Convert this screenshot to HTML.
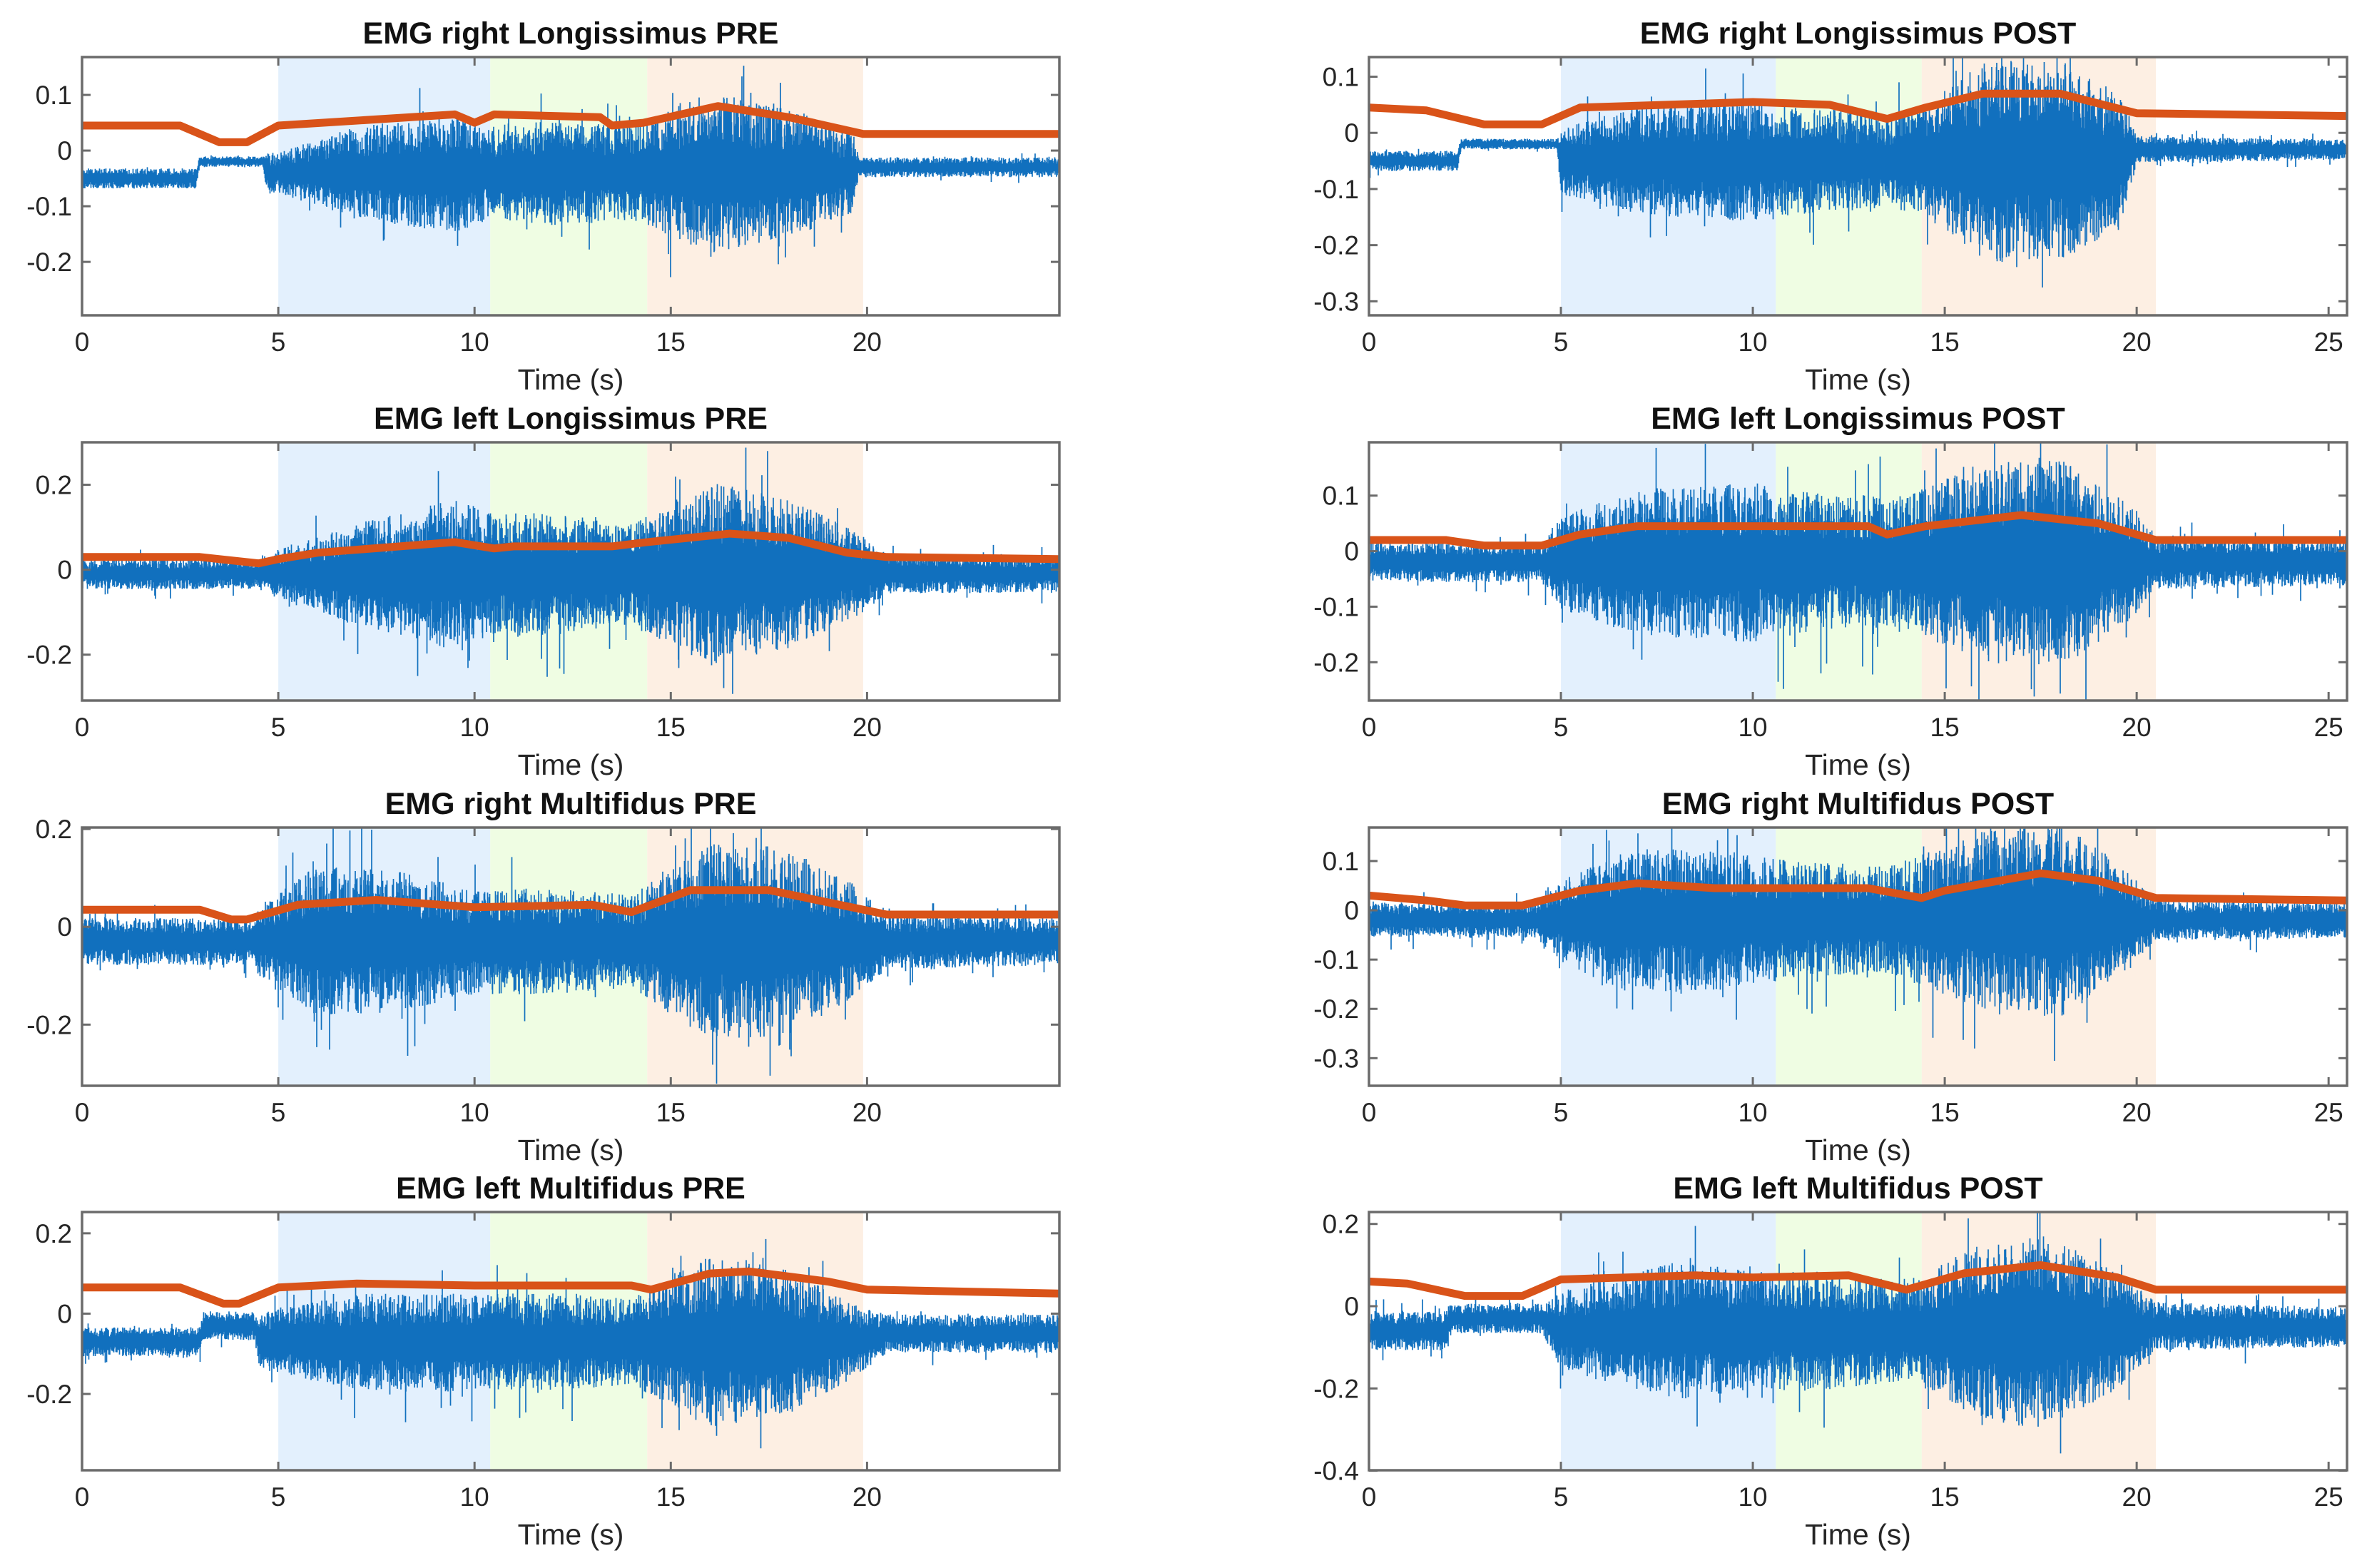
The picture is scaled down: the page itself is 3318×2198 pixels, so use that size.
<!DOCTYPE html>
<html><head><meta charset="utf-8"><style>
html,body{margin:0;padding:0;background:#fff;}
svg{display:block;font-family:"Liberation Sans",Arial,sans-serif;}
</style></head><body>
<svg id="fig" width="3318" height="2198" viewBox="0 0 3318 2198" xmlns="http://www.w3.org/2000/svg"></svg>
<script>
// ---- data ----
const titles = ["EMG right Longissimus PRE","EMG right Longissimus POST","EMG left Longissimus PRE","EMG left Longissimus POST","EMG right Multifidus PRE","EMG right Multifidus POST","EMG left Multifidus PRE","EMG left Multifidus POST"];
const xMaxes = [24.9,25.48,24.9,25.48,24.9,25.48,24.9,25.48];
const yLims = [[-0.296,0.168],[-0.325,0.135],[-0.308,0.30],[-0.269,0.196],[-0.325,0.203],[-0.356,0.168],[-0.39,0.253],[-0.399,0.229]];
const yTicks = [[-0.2,-0.1,0,0.1],[-0.3,-0.2,-0.1,0,0.1],[-0.2,0,0.2],[-0.2,-0.1,0,0.1],[-0.2,0,0.2],[-0.3,-0.2,-0.1,0,0.1],[-0.2,0,0.2],[-0.4,-0.2,0,0.2]];
const xTicksPre = [0,5,10,15,20];
const xTicksPost = [0,5,10,15,20,25];
const phasesPre = [[5,10.4],[10.4,14.4],[14.4,19.9]];
const phasesPost = [[5,10.6],[10.6,14.4],[14.4,20.5]];
// orange RMS envelope: times and values
const rmsT = [
 [0,2.5,3.5,4.2,5,9.5,10,10.5,13.2,13.5,14.3,16.2,18,19.9,24.9],
 [0,1.5,3,4.5,5.5,10,12,13.5,14.5,16,18,20,25.5],
 [0,3,4.5,5,6,9.5,10.5,11,13.5,14.4,16.5,18,19.5,20.5,24.9],
 [0,2,3,4.5,5.5,7,10,13,13.5,14.5,17,19,20.5,25.5],
 [0,3,3.8,4.2,5.5,7.5,10,13,14,15.5,17.5,19,20.5,24.9],
 [0,1.5,2.5,4,5.5,7,9,13,14.4,15,17.5,19,20.5,25.5],
 [0,2.5,3.6,4,5,7,10,14,14.5,16,17,19,20,24.9],
 [0,1,2.5,4,5,8.5,10,12.5,14,15.5,17.5,19.5,20.5,25.5]];
const rmsV = [
 [0.045,0.045,0.015,0.015,0.045,0.065,0.05,0.065,0.06,0.045,0.05,0.08,0.06,0.03,0.03],
 [0.045,0.04,0.015,0.015,0.045,0.055,0.05,0.025,0.045,0.07,0.07,0.035,0.03],
 [0.03,0.03,0.015,0.025,0.04,0.065,0.05,0.055,0.055,0.065,0.085,0.075,0.04,0.03,0.025],
 [0.02,0.02,0.01,0.01,0.03,0.045,0.045,0.045,0.03,0.045,0.065,0.05,0.02,0.02],
 [0.035,0.035,0.015,0.015,0.045,0.055,0.04,0.045,0.03,0.075,0.075,0.05,0.025,0.025],
 [0.03,0.02,0.01,0.01,0.04,0.055,0.045,0.045,0.025,0.04,0.075,0.06,0.025,0.02],
 [0.065,0.065,0.025,0.025,0.065,0.075,0.07,0.07,0.06,0.1,0.105,0.08,0.06,0.05],
 [0.06,0.055,0.025,0.025,0.065,0.075,0.07,0.075,0.04,0.08,0.1,0.07,0.04,0.04]];
// raw EMG envelope: times, centre offset, half-amplitude
const emgT = [
 [0,2.9,3.0,4.6,4.7,5,7,9.5,10.3,12,14,16,18,19.6,19.8,24.9],
 [0,2.3,2.4,4.9,5,7,10,11,13.5,14.4,16,18,19.6,20,25.5],
 [0,4.5,5,7,9.5,10.4,12,14,16,18,19.8,20.5,24.9],
 [0,4.5,5,7,10,12,14,16,18,20,20.5,25.5],
 [0,4.4,4.5,6,8,10,12,14,16,18,19.6,20.5,24.9],
 [0,4.4,4.5,6.5,9,11,13.5,16,18,19.8,20.5,25.5],
 [0,3,3.1,4.4,4.5,7,10,12,14,16,18,19.6,20.5,24.9],
 [0,2,2.1,4.5,5,8,10,12,14,16,17.5,19.5,20.5,25.5]];
const emgC = [
 [-0.05,-0.05,-0.02,-0.02,-0.04,-0.04,-0.04,-0.04,-0.04,-0.04,-0.04,-0.04,-0.04,-0.04,-0.03,-0.03],
 [-0.05,-0.05,-0.02,-0.02,-0.05,-0.05,-0.05,-0.05,-0.05,-0.05,-0.05,-0.05,-0.05,-0.03,-0.03],
 [-0.01,-0.01,-0.01,-0.01,-0.01,-0.01,-0.01,-0.01,-0.01,-0.01,-0.01,-0.01,-0.01],
 [-0.02,-0.02,-0.02,-0.02,-0.02,-0.02,-0.02,-0.02,-0.02,-0.02,-0.02,-0.02],
 [-0.03,-0.03,-0.03,-0.03,-0.03,-0.03,-0.03,-0.03,-0.03,-0.03,-0.03,-0.03,-0.03],
 [-0.02,-0.02,-0.02,-0.02,-0.02,-0.02,-0.02,-0.02,-0.02,-0.02,-0.02,-0.02],
 [-0.07,-0.07,-0.03,-0.03,-0.07,-0.07,-0.07,-0.07,-0.07,-0.07,-0.07,-0.07,-0.05,-0.05],
 [-0.06,-0.06,-0.03,-0.03,-0.06,-0.06,-0.06,-0.06,-0.06,-0.06,-0.06,-0.06,-0.05,-0.05]];
const emgA = [
 [0.015,0.015,0.008,0.008,0.03,0.03,0.07,0.09,0.07,0.08,0.07,0.12,0.1,0.06,0.015,0.015],
 [0.015,0.015,0.008,0.008,0.05,0.08,0.09,0.08,0.07,0.08,0.15,0.15,0.1,0.02,0.015],
 [0.03,0.03,0.05,0.1,0.15,0.12,0.12,0.1,0.18,0.15,0.08,0.04,0.035],
 [0.03,0.03,0.07,0.11,0.12,0.1,0.1,0.15,0.16,0.08,0.04,0.035],
 [0.04,0.04,0.06,0.13,0.12,0.09,0.09,0.08,0.17,0.16,0.1,0.05,0.04],
 [0.03,0.03,0.05,0.12,0.12,0.1,0.09,0.15,0.17,0.08,0.035,0.03],
 [0.03,0.03,0.03,0.03,0.06,0.1,0.1,0.1,0.09,0.18,0.15,0.08,0.04,0.04],
 [0.04,0.04,0.03,0.03,0.08,0.14,0.12,0.12,0.1,0.18,0.2,0.12,0.05,0.04]];

// ---- layout ----
const NS="http://www.w3.org/2000/svg";
const svg=document.getElementById('fig');
const colX=[{x0:115,x1:1485},{x0:1919,x1:3290}];
const rowTop=[80,620,1160,1699], plotH=362;
const phaseColors=["#e3f0fd","#effde3","#fdefe3"];
function mk(tag,attrs,parent){const e=document.createElementNS(NS,tag);for(const k in attrs)e.setAttribute(k,attrs[k]);(parent||svg).appendChild(e);return e;}
function interp(ts,vs,t){if(t<=ts[0])return vs[0];for(let i=1;i<ts.length;i++){if(t<=ts[i]){const f=(t-ts[i-1])/(ts[i]-ts[i-1]);return vs[i-1]+f*(vs[i]-vs[i-1]);}}return vs[vs.length-1];}
function texture(i,k){const s=Math.sin(i*12.9898+k*78.233)*43758.5453;return s-Math.floor(s);}
function fmt(v){return String(v);}

for(let p=0;p<8;p++){
  const col=p%2,row=Math.floor(p/2);
  const X0=colX[col].x0,X1=colX[col].x1,T=rowTop[row],B=T+plotH;
  const xmax=xMaxes[p],[ymin,ymax]=yLims[p];
  const xs=t=>X0+(t/xmax)*(X1-X0);
  const ys=v=>B-(v-ymin)/(ymax-ymin)*plotH;
  const g=mk('g',{});
  
  
  const phases=col===0?phasesPre:phasesPost;
  phases.forEach((ph,i)=>{
    const r=mk('rect',{x:xs(ph[0]),y:T,width:xs(ph[1])-xs(ph[0]),height:plotH,fill:phaseColors[i]},g);
    
    
  });
  // EMG raw
  let d="";const N=Math.round(X1-X0)*2;
  for(let i=0;i<=N;i++){
    const t=i/N*xmax;const c=interp(emgT[p],emgC[p],t);
    const aa=interp(emgT[p],emgA[p],t);
    let u=texture(i,p+1),l=texture(i,p+11);
    let up=aa*(0.4+0.8*u*u), dn=aa*(0.4+0.8*l*l);
    if(texture(i,p+21)>0.97)up*=1.6;
    if(texture(i,p+31)>0.97)dn*=1.7;
    const x=(X0+i/N*(X1-X0)).toFixed(1);
    d+="M"+x+" "+Math.max(T,ys(c+up)).toFixed(1)+"V"+Math.min(B,ys(c-dn)).toFixed(1);
  }
  const raw=mk('path',{d:d,stroke:"#1170be",'stroke-width':1.7,fill:"none"},g);
  
  
  let pts=[];for(let i=0;i<rmsT[p].length;i++)pts.push(xs(rmsT[p][i]).toFixed(1)+","+ys(rmsV[p][i]).toFixed(1));
  const rms=mk('polyline',{points:pts.join(" "),stroke:"#d95319",'stroke-width':11,fill:"none",'stroke-linejoin':"round"},g);
  
  
  const box=mk('rect',{x:X0,y:T,width:X1-X0,height:plotH,fill:"none",stroke:"#6b6b6b",'stroke-width':3.5},g);
  
  
  const xt=col===0?xTicksPre:xTicksPost;
  xt.forEach(v=>{
    const x=xs(v);
    mk('line',{x1:x,y1:B,x2:x,y2:B-12,stroke:"#6b6b6b",'stroke-width':3},g);
    mk('line',{x1:x,y1:T,x2:x,y2:T+12,stroke:"#6b6b6b",'stroke-width':3},g);
    const tx=mk('text',{x:x,y:B+50,'font-size':37,'text-anchor':"middle",fill:"#262626"},g);
    tx.textContent=v;
    
    
  });
  yTicks[p].forEach(v=>{
    const y=ys(v);
    mk('line',{x1:X0,y1:y,x2:X0+12,y2:y,stroke:"#6b6b6b",'stroke-width':3},g);
    mk('line',{x1:X1,y1:y,x2:X1-12,y2:y,stroke:"#6b6b6b",'stroke-width':3},g);
    const ty=mk('text',{x:X0-14,y:y+13,'font-size':37,'text-anchor':"end",fill:"#262626"},g);
    ty.textContent=fmt(v);
    
    
  });
  const xl=mk('text',{x:(X0+X1)/2,y:B+104,'font-size':41,'text-anchor':"middle",fill:"#262626"},g);
  xl.textContent="Time (s)";
  
  
  const tt=mk('text',{x:(X0+X1)/2,y:T-19,'font-size':43,'font-weight':"bold",'text-anchor':"middle",fill:"#111"},g);
  tt.textContent=titles[p];
  
  
}
</script>
</body></html>
